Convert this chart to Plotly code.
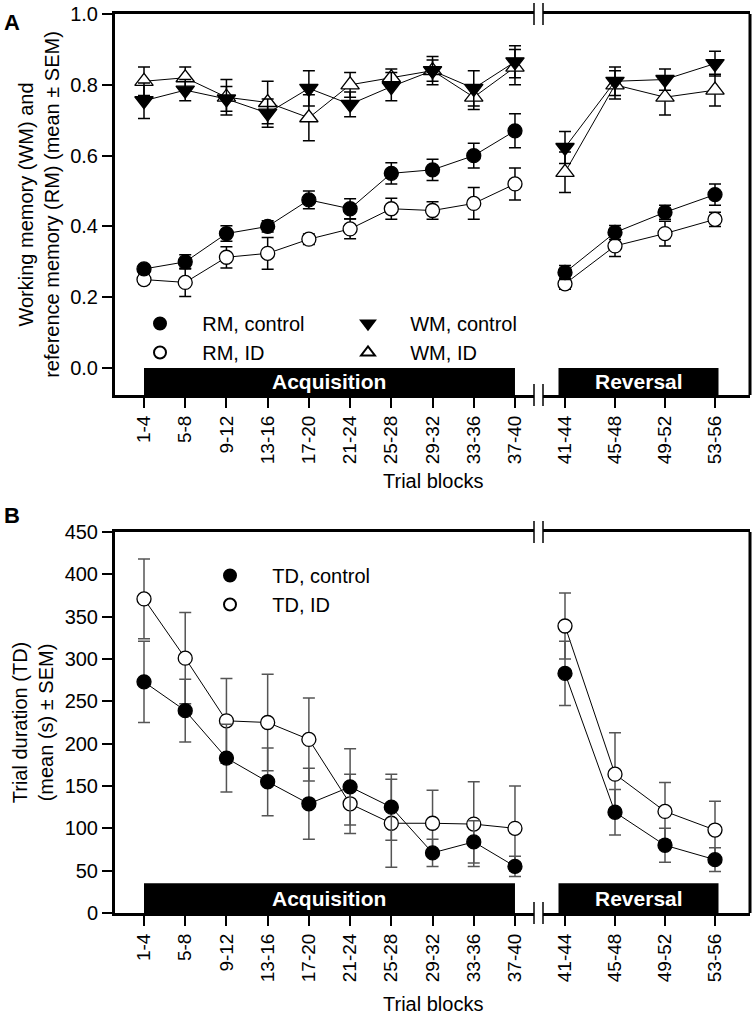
import plotly.graph_objects as go

# trial blocks
acq_blocks = ['1-4', '5-8', '9-12', '13-16', '17-20', '21-24', '25-28', '29-32', '33-36', '37-40']
rev_blocks = ['41-44', '45-48', '49-52', '53-56']

# panel A: reference memory (RM) and working memory (WM) ratios
rm_ctrl_acq = [0.28, 0.30, 0.38, 0.40, 0.475, 0.45, 0.55, 0.56, 0.60, 0.67]
rm_ctrl_acq_err = [0.012, 0.02, 0.022, 0.016, 0.025, 0.028, 0.03, 0.03, 0.035, 0.048]
rm_ctrl_rev = [0.27, 0.383, 0.44, 0.49]
rm_ctrl_rev_err = [0.02, 0.02, 0.02, 0.03]

rm_id_acq = [0.25, 0.242, 0.313, 0.324, 0.364, 0.393, 0.45, 0.445, 0.465, 0.52]
rm_id_acq_err = [0.012, 0.04, 0.03, 0.045, 0.015, 0.028, 0.03, 0.025, 0.045, 0.045]
rm_id_rev = [0.238, 0.345, 0.38, 0.42]
rm_id_rev_err = [0.015, 0.03, 0.035, 0.02]

wm_ctrl_acq = [0.755, 0.785, 0.76, 0.72, 0.79, 0.745, 0.795, 0.84, 0.79, 0.865]
wm_ctrl_acq_err = [0.05, 0.03, 0.035, 0.04, 0.05, 0.035, 0.04, 0.04, 0.05, 0.045]
wm_ctrl_rev = [0.623, 0.81, 0.815, 0.86]
wm_ctrl_rev_err = [0.045, 0.04, 0.03, 0.035]

wm_id_acq = [0.81, 0.82, 0.765, 0.75, 0.707, 0.80, 0.82, 0.84, 0.765, 0.85]
wm_id_acq_err = [0.04, 0.03, 0.05, 0.06, 0.065, 0.035, 0.025, 0.03, 0.035, 0.05]
wm_id_rev = [0.553, 0.80, 0.765, 0.785]
wm_id_rev_err = [0.057, 0.04, 0.05, 0.045]

# panel B: trial duration (s)
td_ctrl_acq = [273, 239, 183, 155, 129, 149, 125, 71, 84, 55]
td_ctrl_acq_err = [48, 37, 40, 40, 42, 45, 39, 16, 25, 12]
td_ctrl_rev = [283, 119, 80, 63]
td_ctrl_rev_err = [38, 27, 20, 14]

td_id_acq = [371, 301, 227, 225, 205, 129, 106, 106, 105, 100]
td_id_acq_err = [47, 54, 50, 57, 49, 35, 52, 39, 50, 50]
td_id_rev = [339, 164, 120, 98]
td_id_rev_err = [39, 49, 34, 34]

W, H = 756, 1017
ML, MR = 115, 6
PW = W - ML - MR
FONT = 'Liberation Sans, Arial, sans-serif'


def px(x):
    return (x - ML) / PW


def py(y):
    return 1 - y / H


filled = dict(color='black', line=dict(color='black', width=1.3))
hollow = dict(color='white', line=dict(color='black', width=1.3))

fig = go.Figure()


def add_series(xa, ya, cats, vals, errs, symbol, style, err_color):
    size = 14 if symbol == 'circle' else 16
    fig.add_trace(go.Scatter(
        x=cats, y=vals, xaxis=xa, yaxis=ya, mode='lines+markers',
        line=dict(color='black', width=1),
        marker=dict(symbol=symbol, size=size, **style),
        error_y=dict(type='data', array=errs, color=err_color, thickness=1.5, width=6),
        showlegend=False, hoverinfo='skip'))


def add_key(name, symbol, style, legend):
    size = 16 if symbol == 'circle' else 18
    fig.add_trace(go.Scatter(
        x=[None], y=[None], mode='markers', name='\u00a0\u00a0\u00a0\u00a0' + name,
        marker=dict(symbol=symbol, size=size, **style), legend=legend))


# panel A
for xa, cats, data in [
    ('x', acq_blocks, [(wm_id_acq, wm_id_acq_err, 'triangle-up', hollow),
                       (wm_ctrl_acq, wm_ctrl_acq_err, 'triangle-down', filled),
                       (rm_id_acq, rm_id_acq_err, 'circle', hollow),
                       (rm_ctrl_acq, rm_ctrl_acq_err, 'circle', filled)]),
    ('x2', rev_blocks, [(wm_id_rev, wm_id_rev_err, 'triangle-up', hollow),
                        (wm_ctrl_rev, wm_ctrl_rev_err, 'triangle-down', filled),
                        (rm_id_rev, rm_id_rev_err, 'circle', hollow),
                        (rm_ctrl_rev, rm_ctrl_rev_err, 'circle', filled)])]:
    for vals, errs, sym, st in data:
        add_series(xa, 'y', cats, vals, errs, sym, st, 'black')

# panel B
add_series('x3', 'y2', acq_blocks, td_id_acq, td_id_acq_err, 'circle', hollow, '#555555')
add_series('x3', 'y2', acq_blocks, td_ctrl_acq, td_ctrl_acq_err, 'circle', filled, '#555555')
add_series('x4', 'y2', rev_blocks, td_id_rev, td_id_rev_err, 'circle', hollow, '#555555')
add_series('x4', 'y2', rev_blocks, td_ctrl_rev, td_ctrl_rev_err, 'circle', filled, '#555555')

add_key('RM, control', 'circle', filled, 'legend')
add_key('RM, ID', 'circle', hollow, 'legend')
add_key('WM, control', 'triangle-down', filled, 'legend2')
add_key('WM, ID', 'triangle-up', hollow, 'legend2')
add_key('TD, control', 'circle', filled, 'legend3')
add_key('TD, ID', 'circle', hollow, 'legend3')

left_dom = [0, px(534)]
right_dom = [px(543), 1]
a_dom = [py(395), py(14)]
b_dom = [py(913), py(532)]
acq_range = [-29 / 41.22, 390 / 41.22]
rev_range = [-22 / 50, 185 / 50]

xcommon = dict(type='category', showline=True, linewidth=3, linecolor='black', mirror=True,
               ticks='outside', ticklen=10, tickwidth=2, tickcolor='black', tickangle=-90,
               showgrid=False, zeroline=False, tickfont=dict(family=FONT, size=19, color='black'))
ycommon = dict(showline=True, linewidth=3, linecolor='black', ticks='outside', ticklen=10,
               tickwidth=2, tickcolor='black', showgrid=False, zeroline=False,
               tickfont=dict(family=FONT, size=20, color='black'),
               title_font=dict(family=FONT, size=20, color='black'), title_standoff=6)

legend_common = dict(font=dict(family=FONT, size=20, color='black'), bgcolor='rgba(0,0,0,0)',
                     xanchor='left', yanchor='top', tracegroupgap=0, itemsizing='constant')

fig.update_layout(
    width=W, height=H, margin=dict(l=ML, r=MR, t=0, b=0, autoexpand=False),
    paper_bgcolor='white', plot_bgcolor='white', font=dict(family=FONT, color='black'),
    xaxis=dict(domain=left_dom, range=acq_range, anchor='y', **xcommon),
    xaxis2=dict(domain=right_dom, range=rev_range, anchor='y', **xcommon),
    xaxis3=dict(domain=left_dom, range=acq_range, anchor='y2', **xcommon),
    xaxis4=dict(domain=right_dom, range=rev_range, anchor='y2', **xcommon),
    yaxis=dict(domain=a_dom, range=[-0.076, 1.0], anchor='x', tickvals=[0, 0.2, 0.4, 0.6, 0.8, 1.0],
               tickformat='.1f',
               title_text='Working memory (WM) and<br>reference memory (RM) (mean ± SEM)', **ycommon),
    yaxis2=dict(domain=b_dom, range=[0, 450], anchor='x3', dtick=50,
                title_text='Trial duration (TD)<br>(mean (s) ± SEM)', **ycommon),
    legend=dict(x=px(140), y=py(304), **legend_common),
    legend2=dict(x=px(348), y=py(304), **legend_common),
    legend3=dict(x=px(210), y=py(556), **legend_common),
)

shapes = []
# black phase bars
for xr, yr, x0, x1, y0, y1 in [('x', 'y', 0, 9, -0.076, 0), ('x2', 'y', -0.13, 3.07, -0.076, 0),
                               ('x3', 'y2', 0, 9, 0, 35), ('x4', 'y2', -0.13, 3.07, 0, 35)]:
    shapes.append(dict(type='rect', xref=xr, yref=yr, x0=x0, x1=x1, y0=y0, y1=y1,
                       fillcolor='black', line=dict(width=0), layer='below'))
# right frame lines
for yd in ['y domain', 'y2 domain']:
    shapes.append(dict(type='line', xref='x2 domain', yref=yd, x0=1, x1=1, y0=0, y1=1,
                       line=dict(color='black', width=3)))
# axis break marks
for yd in ['y domain', 'y2 domain']:
    for xb in [534, 543]:
        for ya in [0, 1]:
            shapes.append(dict(type='line', xref='paper', yref=yd, x0=px(xb), x1=px(xb),
                               ysizemode='pixel', yanchor=ya, y0=-11, y1=11,
                               line=dict(color='black', width=1.5)))
fig.update_layout(shapes=shapes)

ann = []
for xr, yr, xc, yc, txt in [('x', 'y', 4.5, -0.038, 'Acquisition'), ('x2', 'y', 1.47, -0.038, 'Reversal'),
                            ('x3', 'y2', 4.5, 17.5, 'Acquisition'), ('x4', 'y2', 1.47, 17.5, 'Reversal')]:
    ann.append(dict(xref=xr, yref=yr, x=xc, y=yc, text='<b>' + txt + '</b>', showarrow=False,
                    font=dict(family=FONT, size=21, color='white'), xanchor='center', yanchor='middle'))
for yy in [481, 1004]:
    ann.append(dict(xref='paper', yref='paper', x=0.5, y=py(yy), text='Trial blocks', showarrow=False,
                    font=dict(family=FONT, size=20, color='black'), xanchor='center', yanchor='middle'))
for lab, yy in [('A', 22), ('B', 515)]:
    ann.append(dict(xref='paper', yref='paper', x=px(12), y=py(yy), text='<b>' + lab + '</b>',
                    showarrow=False, font=dict(family=FONT, size=22, color='black'),
                    xanchor='center', yanchor='middle'))
fig.update_layout(annotations=ann)

fig.write_html('out.html', config={'displayModeBar': False},
               post_script="document.body.style.margin='0';")
